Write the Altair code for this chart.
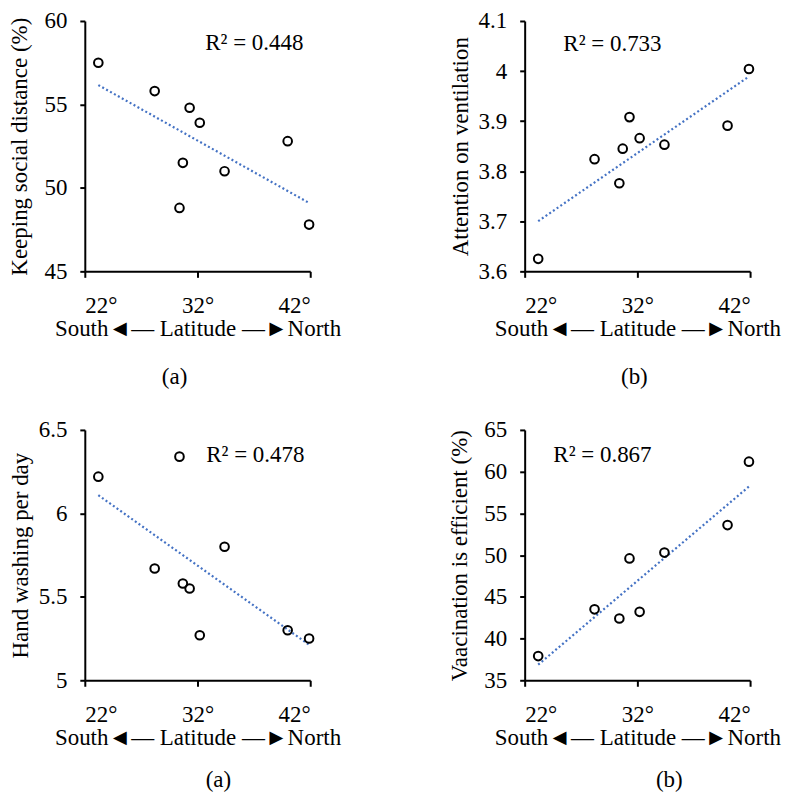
import altair as alt
import pandas as pd

FONT = "Liberation Serif, Times New Roman, Times, serif"

# Latitude of the nine cities (degrees north)
lat = [23.2, 28.2, 30.4, 30.7, 31.3, 32.2, 34.4, 40.0, 41.9]

# Series
social = [57.5, 55.8, 48.8, 51.5, 54.8, 53.9, 51.0, 52.8, 47.8]
ventilation = [3.625, 3.824, 3.776, 3.845, 3.908, 3.866, 3.853, 3.891, 4.004]
handwash = [6.22, 5.67, 6.34, 5.58, 5.55, 5.27, 5.80, 5.30, 5.25]
vaccine = [37.9, 43.5, 42.4, None, 49.6, 43.2, 50.3, 53.6, 61.2]

# Axis ticks and labels
x_ticks = [22, 32, 42]
social_ticks = [45, 50, 55, 60]
vent_ticks = [3.6, 3.7, 3.8, 3.9, 4.0, 4.1]
hand_ticks = [5, 5.5, 6, 6.5]
vacc_ticks = [35, 40, 45, 50, 55, 60, 65]

titles_y = ["Keeping social distance (%)", "Attention on ventilation",
            "Hand washing per day", "Vaacination  is  efficient (%)"]
r2_labels = ["R\u00b2 = 0.448", "R\u00b2 = 0.733", "R\u00b2 = 0.478", "R\u00b2 = 0.867"]
panel_labels = ["(a)", "(b)", "(a)", "(b)"]
x_title = "South\u25c4\u2014 Latitude \u2014\u25baNorth"

W, H = 226, 251
FS = 23


def panel(values, ytitle, ydomain, yticks, r2, r2x, r2y, label, label_dx, label_off, tpad):
    df = pd.DataFrame({"lat": lat, "val": values})
    base = alt.Chart(df).transform_filter("isValid(datum.val)")
    xenc = alt.X(
        "lat:Q",
        scale=alt.Scale(domain=[22, 42], nice=False, zero=False),
        axis=alt.Axis(values=x_ticks, labelExpr="datum.value + '\u00b0'", title=x_title),
    )
    yenc = alt.Y(
        "val:Q",
        scale=alt.Scale(domain=ydomain, nice=False, zero=False),
        axis=alt.Axis(values=yticks, format=".1~f", title=ytitle, titlePadding=tpad),
    )
    line = base.transform_regression("lat", "val").mark_line(
        color="#4472C4", strokeWidth=2.2, strokeDash=[2, 2.5]
    ).encode(x=xenc, y=yenc)
    pts = base.mark_point(
        shape="circle", filled=False, color="black", size=75, strokeWidth=2, opacity=1
    ).encode(x=xenc, y=yenc)
    txt = alt.Chart(pd.DataFrame({"t": [r2]})).mark_text(
        font=FONT, fontSize=FS, color="black", align="center", baseline="middle"
    ).encode(text="t:N", x=alt.value(r2x), y=alt.value(r2y))
    return alt.layer(line, pts, txt).properties(
        width=W,
        height=H,
        title=alt.TitleParams(
            text=label, orient="bottom", anchor="middle", frame="group",
            dx=label_dx, offset=label_off, font=FONT, fontSize=FS,
            fontWeight="normal", color="black",
        ),
    )


p1 = panel(social, titles_y[0], [45, 60], social_ticks, r2_labels[0], 170, 22, panel_labels[0], -23, 26, 12)
p2 = panel(ventilation, titles_y[1], [3.6, 4.1], vent_ticks, r2_labels[1], 88, 23, panel_labels[1], -3, 26, 6)
p3 = panel(handwash, titles_y[2], [5, 6.5], hand_ticks, r2_labels[2], 171, 25, panel_labels[2], 21, 20, 6)
p4 = panel(vaccine, titles_y[3], [35, 65], vacc_ticks, r2_labels[3], 78, 25, panel_labels[3], 32, 20, 12)

chart = alt.concat(
    p1, p2, p3, p4, columns=2,
    spacing={"row": 159, "column": 215}, bounds="flush",
).properties(
    padding={"left": 0, "top": 0, "right": 0, "bottom": 0}
).configure_view(
    stroke="transparent"
).configure_axis(
    grid=False, domainColor="black", domainWidth=2, tickColor="black",
    tickWidth=2, tickSize=5, labelFont=FONT, labelFontSize=FS, labelColor="black",
    titleFont=FONT, titleFontSize=FS, titleFontWeight="normal", titleColor="black",
).configure_axisY(
    labelPadding=13
).configure_axisX(
    labelPadding=17, titlePadding=0, tickSize=6
)

chart.save("out.html", embed_options={"renderer": "svg", "actions": False})
